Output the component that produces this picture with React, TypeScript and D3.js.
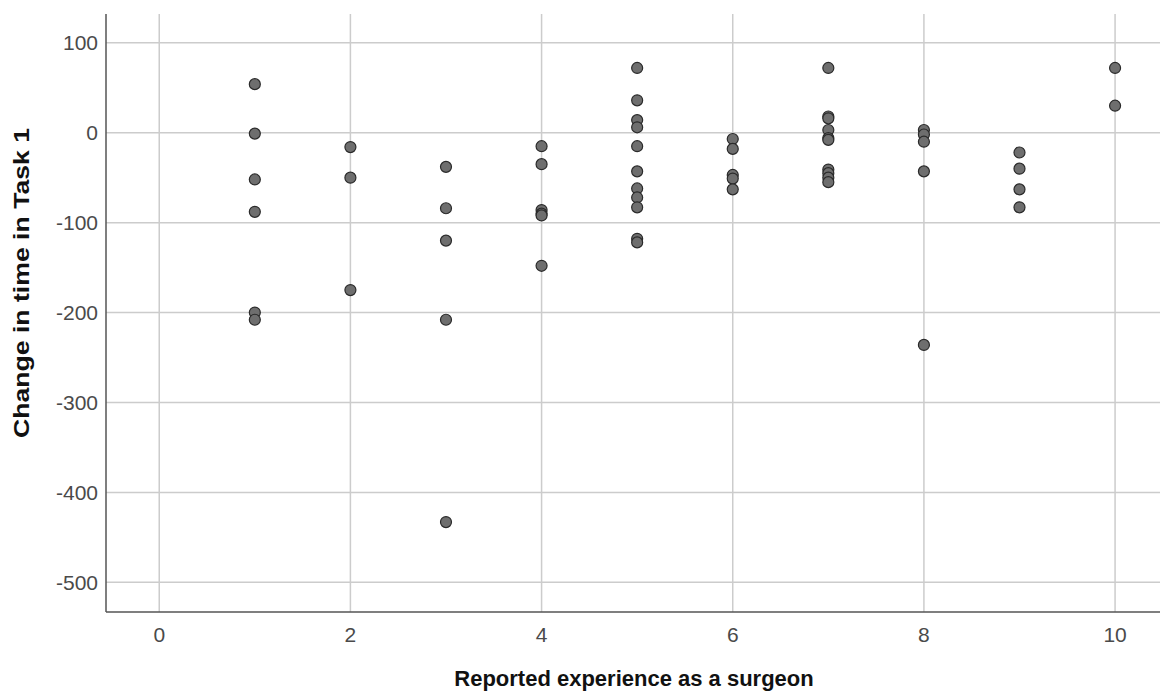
import React, { useEffect, useRef } from "react";
import * as d3 from "d3";

const experience = [
  1, 1, 1, 1, 1, 1,
  2, 2, 2,
  3, 3, 3, 3, 3,
  4, 4, 4, 4, 4, 4,
  5, 5, 5, 5, 5, 5, 5, 5, 5, 5, 5,
  6, 6, 6, 6, 6,
  7, 7, 7, 7, 7, 7, 7, 7, 7, 7,
  8, 8, 8, 8, 8,
  9, 9, 9, 9,
  10, 10,
];
const change = [
  54, -1, -52, -88, -200, -208,
  -16, -50, -175,
  -38, -84, -120, -208, -433,
  -15, -35, -86, -90, -92, -148,
  72, 36, 14, 6, -15, -43, -62, -72, -83, -118, -122,
  -7, -18, -47, -51, -63,
  72, 18, 16, 3, -6, -8, -41, -45, -50, -55,
  3, -2, -10, -43, -236,
  -22, -40, -63, -83,
  72, 30,
];
const xTicks = [0, 2, 4, 6, 8, 10];
const yTicks = [100, 0, -100, -200, -300, -400, -500];

const W = 1160;
const H = 691;
const left = 106;
const right = 1160;
const top = 14;
const bottom = 612;

export default function App() {
  const ref = useRef<SVGSVGElement>(null);
  useEffect(() => {
    const svg = d3.select(ref.current);
    svg.selectAll("*").remove();
    const x = d3.scaleLinear().domain([-0.557, 10.47]).range([left, right]);
    const y = d3.scaleLinear().domain([-533, 132]).range([bottom, top]);
    const font = "'Liberation Sans', Arial, sans-serif";

    const g = svg.append("g");
    // grid
    g.selectAll("line.vg")
      .data(xTicks)
      .enter()
      .append("line")
      .attr("x1", (d) => x(d))
      .attr("x2", (d) => x(d))
      .attr("y1", top)
      .attr("y2", bottom)
      .attr("stroke", "#cccccc")
      .attr("stroke-width", 1.5);
    g.selectAll("line.hg")
      .data(yTicks)
      .enter()
      .append("line")
      .attr("x1", left)
      .attr("x2", right)
      .attr("y1", (d) => y(d))
      .attr("y2", (d) => y(d))
      .attr("stroke", "#cccccc")
      .attr("stroke-width", 1.5);

    // axes lines
    g.append("line")
      .attr("x1", left).attr("x2", left).attr("y1", top).attr("y2", bottom)
      .attr("stroke", "#555").attr("stroke-width", 1.5);
    g.append("line")
      .attr("x1", left).attr("x2", right).attr("y1", bottom).attr("y2", bottom)
      .attr("stroke", "#555").attr("stroke-width", 1.5);

    // tick labels
    g.selectAll("text.xt")
      .data(xTicks)
      .enter()
      .append("text")
      .attr("x", (d) => x(d))
      .attr("y", 642)
      .attr("text-anchor", "middle")
      .attr("font-family", font)
      .attr("font-size", 21)
      .attr("fill", "#4a4a4a")
      .text((d) => String(d));
    g.selectAll("text.yt")
      .data(yTicks)
      .enter()
      .append("text")
      .attr("x", 98)
      .attr("y", (d) => y(d) + 7.5)
      .attr("text-anchor", "end")
      .attr("font-family", font)
      .attr("font-size", 21)
      .attr("fill", "#4a4a4a")
      .text((d) => String(d));

    // axis titles
    g.append("text")
      .attr("x", 634)
      .attr("y", 686)
      .attr("text-anchor", "middle")
      .attr("font-family", font)
      .attr("font-weight", "bold")
      .attr("font-size", 22)
      .attr("fill", "#111")
      .text("Reported experience as a surgeon");
    g.append("text")
      .attr("transform", "translate(29,283) rotate(-90)")
      .attr("text-anchor", "middle")
      .attr("font-family", font)
      .attr("font-weight", "bold")
      .attr("font-size", 22)
      .attr("textLength", 310)
      .attr("lengthAdjust", "spacingAndGlyphs")
      .attr("fill", "#111")
      .text("Change in time in Task 1");

    // points
    g.selectAll("circle")
      .data(experience.map((e, i) => [e, change[i]]))
      .enter()
      .append("circle")
      .attr("cx", (d) => x(d[0]))
      .attr("cy", (d) => y(d[1]))
      .attr("r", 5.5)
      .attr("fill", "#6e6e6e")
      .attr("stroke", "#2a2a2a")
      .attr("stroke-width", 1.2);
  }, []);
  return (
    <svg
      ref={ref}
      width={W}
      height={H}
      style={{ position: "absolute", left: 0, top: 0, background: "#fff" }}
    />
  );
}
